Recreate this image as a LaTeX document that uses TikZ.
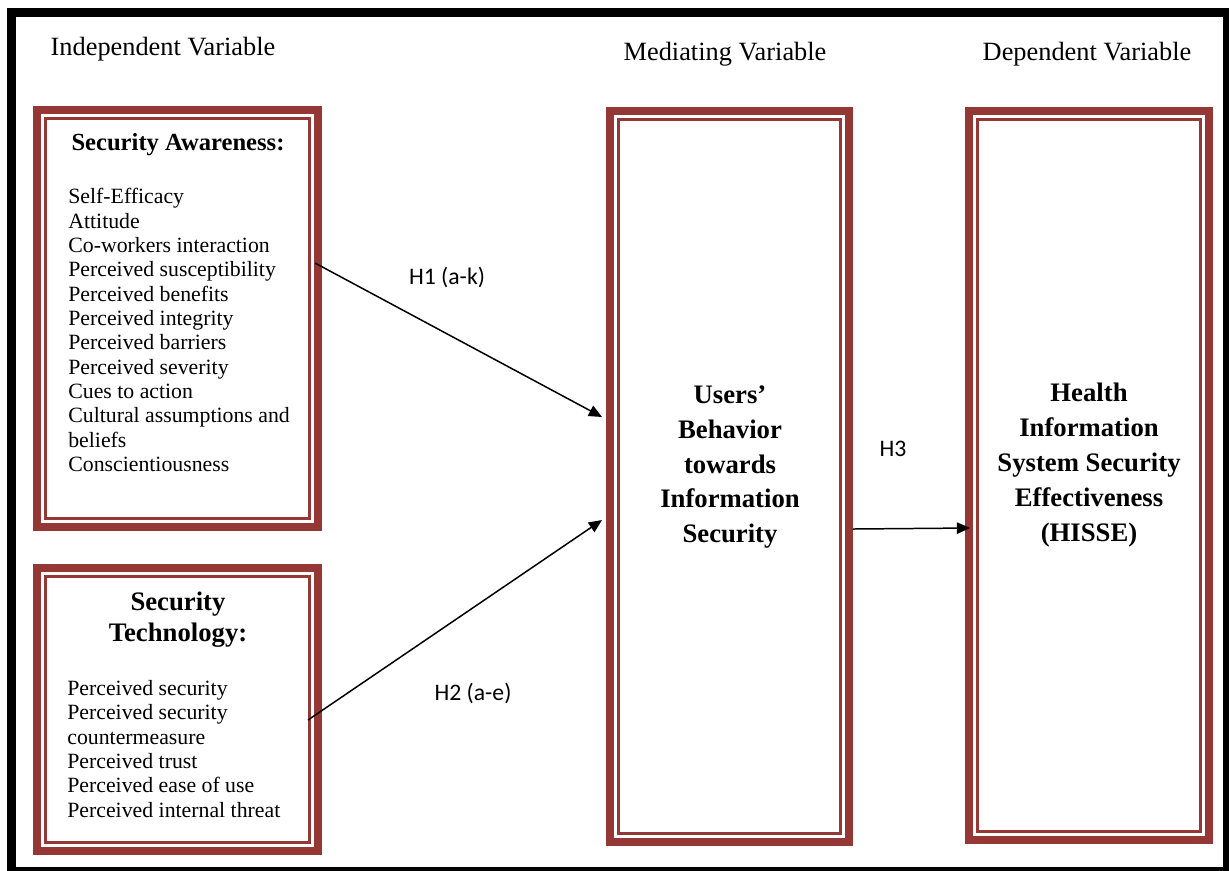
\documentclass[tikz,border=0pt]{standalone}
\usepackage{fontspec}
\setmainfont{Liberation Serif}
\newfontfamily\hypfont{Carlito}
\usetikzlibrary{arrows.meta,calc}
\definecolor{boxred}{RGB}{149,55,53}
\tikzset{
  varbox/.style={draw=boxred,line width=4.5pt,inner sep=0pt,outer sep=0pt},
  innerframe/.style={draw=boxred,line width=1.3pt},
  vartitle/.style={font=\fontsize{15}{18}\selectfont,anchor=base},
  boxhead/.style={font=\bfseries\fontsize{15.2}{19.8}\selectfont,align=center},
  itemlist/.style={font=\fontsize{12.4}{13.86}\selectfont,align=left,anchor=north west,inner sep=0pt},
  hyp/.style={font=\hypfont\fontsize{13.5}{16}\selectfont},
  link/.style={line width=0.85pt,-{Triangle[length=7.5pt,width=6.5pt]}}
}

\begin{document}
\begin{tikzpicture}[x=0.02cm,y=-0.02cm]
  \useasboundingbox (0,0) rectangle (1229,870);
  \fill[white] (0,0) rectangle (1229,870);
  \draw[line width=5.1pt] (11.5,12.5) rectangle (1227.5,871.5);

  \node[vartitle] (indep) at (163,55) {Independent Variable};
  \node[vartitle] (medi) at (725,60) {Mediating Variable};
  \node[vartitle] (dep) at (1087,60) {Dependent Variable};

  \node[varbox,minimum width=5.62cm,minimum height=8.34cm] (aware) at (177.5,318.5) {};
  \node[varbox,minimum width=5.62cm,minimum height=5.66cm] (tech) at (177.5,709.5) {};
  \node[varbox,minimum width=4.78cm,minimum height=14.62cm] (behav) at (729.5,476.5) {};
  \node[varbox,minimum width=4.8cm,minimum height=14.58cm] (hisse) at (1089,475.5) {};
  \foreach \b in {aware,tech,behav,hisse}
    \draw[innerframe] ($(\b.north west)+(8.5,8.5)$) rectangle ($(\b.south east)+(-8.5,-8.5)$);

  \node[font=\bfseries\fontsize{14}{17}\selectfont,anchor=base] (awarehead) at (178,150) {Security Awareness:};
  \node[itemlist] (awarelist) at (68,188) {Self-Efficacy\\Attitude\\Co-workers interaction\\
    Perceived susceptibility\\Perceived benefits\\Perceived integrity\\Perceived barriers\\
    Perceived severity\\Cues to action\\Cultural assumptions and\\beliefs\\Conscientiousness};

  \node[boxhead,font=\bfseries\fontsize{15.2}{17.6}\selectfont] (techhead) at (178,619.5) {Security\\Technology:};
  \node[itemlist] (techlist) at (67,680) {Perceived security\\Perceived security\\countermeasure\\
    Perceived trust\\Perceived ease of use\\Perceived internal threat};

  \node[boxhead] (behavtext) at (730,467) {Users’\\Behavior\\towards\\Information\\Security};
  \node[boxhead] (hissetext) at (1089,465) {Health\\Information\\System Security\\Effectiveness\\(HISSE)};

  \draw[link] ($(aware.east)+(-3,-55.5)$) -- ($(behav.west)+(-8,-59.5)$);
  \draw[link] ($(tech.east)+(-10,10.5)$) -- ($(behav.west)+(-8,43.5)$);
  \draw[link] ($(behav.east)+(4,52.5)$) -- ($(hisse.west)+(1,52.5)$);

  \node[hyp] (h1) at (447,277) {H1 (a-k)};
  \node[hyp] (h2) at (473,693) {H2 (a-e)};
  \node[hyp] (h3) at (893,449) {H3};
\end{tikzpicture}
\end{document}
